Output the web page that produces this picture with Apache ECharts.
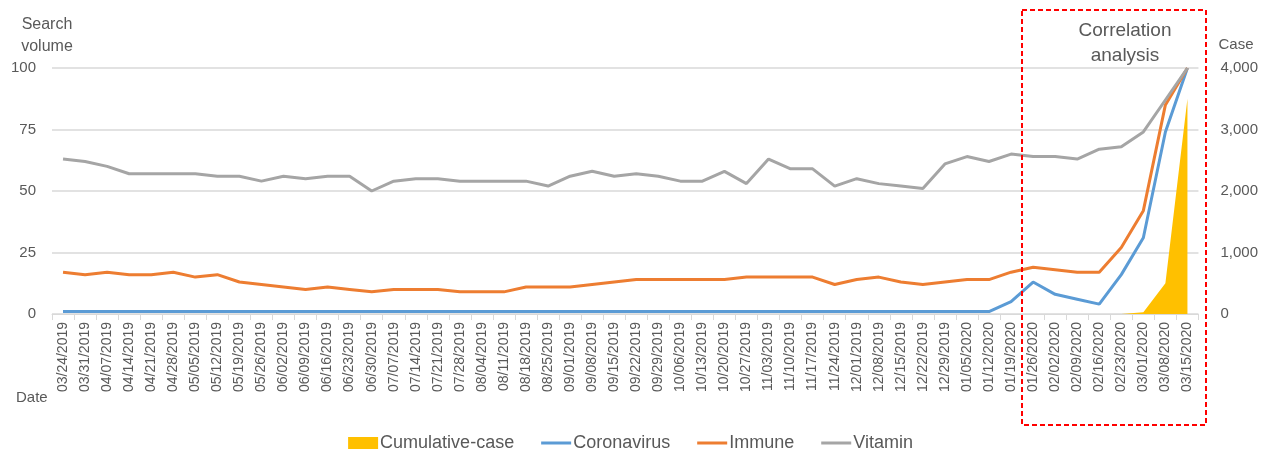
<!DOCTYPE html>
<html>
<head>
<meta charset="utf-8">
<script src="https://cdn.jsdelivr.net/npm/echarts@6/dist/echarts.min.js"></script>
<style>
  html, body { margin: 0; padding: 0; background: #fff; }
  #chart { width: 1261px; height: 450px; }
</style>
</head>
<body>
<div id="chart"></div>
<script>
  // weekly dates
  const dates = [
    '03/24/2019', '03/31/2019', '04/07/2019', '04/14/2019', '04/21/2019', '04/28/2019',
    '05/05/2019', '05/12/2019', '05/19/2019', '05/26/2019', '06/02/2019', '06/09/2019',
    '06/16/2019', '06/23/2019', '06/30/2019', '07/07/2019', '07/14/2019', '07/21/2019',
    '07/28/2019', '08/04/2019', '08/11/2019', '08/18/2019', '08/25/2019', '09/01/2019',
    '09/08/2019', '09/15/2019', '09/22/2019', '09/29/2019', '10/06/2019', '10/13/2019',
    '10/20/2019', '10/27/2019', '11/03/2019', '11/10/2019', '11/17/2019', '11/24/2019',
    '12/01/2019', '12/08/2019', '12/15/2019', '12/22/2019', '12/29/2019', '01/05/2020',
    '01/12/2020', '01/19/2020', '01/26/2020', '02/02/2020', '02/09/2020', '02/16/2020',
    '02/23/2020', '03/01/2020', '03/08/2020', '03/15/2020'
  ];

  // search volume (left axis)
  const coronavirus = [
    1, 1, 1, 1, 1, 1, 1, 1, 1, 1, 1, 1, 1, 1, 1, 1, 1, 1, 1, 1, 1, 1, 1, 1, 1, 1,
    1, 1, 1, 1, 1, 1, 1, 1, 1, 1, 1, 1, 1, 1, 1, 1, 1, 5, 13, 8, 6, 4, 16, 31, 74, 100
  ];
  const immune = [
    17, 16, 17, 16, 16, 17, 15, 16, 13, 12, 11, 10, 11, 10, 9, 10, 10, 10, 9, 9, 9, 11,
    11, 11, 12, 13, 14, 14, 14, 14, 14, 15, 15, 15, 15, 12, 14, 15, 13, 12, 13, 14,
    14, 17, 19, 18, 17, 17, 27, 42, 85, 100
  ];
  const vitamin = [
    63, 62, 60, 57, 57, 57, 57, 56, 56, 54, 56, 55, 56, 56, 50, 54, 55, 55, 54, 54, 54, 54,
    52, 56, 58, 56, 57, 56, 54, 54, 58, 53, 63, 59, 59, 52, 55, 53, 52, 51, 61, 64,
    62, 65, 64, 64, 63, 67, 68, 74, 87, 100
  ];

  // cumulative cases (right axis)
  const cumulativeCase = [
    0, 0, 0, 0, 0, 0, 0, 0, 0, 0, 0, 0, 0, 0, 0, 0, 0, 0, 0, 0, 0, 0, 0, 0, 0, 0,
    0, 0, 0, 0, 0, 0, 0, 0, 0, 0, 0, 0, 0, 0, 0, 0, 0, 0, 0, 0, 0, 0, 0, 30, 500, 3500
  ];

  const volumeTicks = [0, 25, 50, 75, 100];
  const caseTicks = [0, 1000, 2000, 3000, 4000];

  const textColor = '#595959';
  const fontFamily = "'Liberation Sans', Arial, sans-serif";
  // flat line icon for the legend (no dot)
  const lineIcon = 'path://M0,0 L30,0 L30,3 L0,3 Z';

  const chart = echarts.init(document.getElementById('chart'));

  chart.setOption({
    animation: false,
    textStyle: { fontFamily: fontFamily, color: textColor },
    grid: { left: 52, right: 62, top: 68, bottom: 136 },
    legend: {
      top: 429,
      left: 'center',
      itemWidth: 30,
      itemHeight: 12,
      itemGap: 27,
      textStyle: { fontSize: 18, color: textColor, fontFamily: fontFamily, padding: [0, 0, 0, -3] },
      data: [
        { name: 'Cumulative-case', icon: 'rect' },
        { name: 'Coronavirus', icon: lineIcon },
        { name: 'Immune', icon: lineIcon },
        { name: 'Vitamin', icon: lineIcon }
      ]
    },
    xAxis: {
      type: 'category',
      data: dates,
      boundaryGap: true,
      axisLine: { lineStyle: { color: '#d9d9d9' } },
      axisTick: { show: true, length: 6, lineStyle: { color: '#d9d9d9' } },
      axisLabel: { rotate: 90, interval: 0, fontSize: 14, color: textColor, margin: 8 }
    },
    yAxis: [
      {
        type: 'value',
        min: volumeTicks[0],
        max: volumeTicks[volumeTicks.length - 1],
        interval: 25,
        name: 'Search\nvolume',
        nameLocation: 'end',
        nameGap: 10,
        nameTextStyle: { fontSize: 16, color: textColor, align: 'center', lineHeight: 22, padding: [0, 0, 0, -10] },
        axisLine: { show: false },
        axisTick: { show: false },
        axisLabel: { fontSize: 15, color: textColor, margin: 16 },
        splitLine: { lineStyle: { color: '#d9d9d9', width: 1.5 } }
      },
      {
        type: 'value',
        min: caseTicks[0],
        max: caseTicks[caseTicks.length - 1],
        interval: 1000,
        name: 'Case',
        nameLocation: 'end',
        nameGap: 16,
        nameTextStyle: { fontSize: 15, color: textColor, align: 'left', padding: [0, 0, 0, 20] },
        axisLine: { show: false },
        axisTick: { show: false },
        axisLabel: {
          fontSize: 15,
          color: textColor,
          margin: 22,
          formatter: (v) => v.toLocaleString('en-US')
        },
        splitLine: { show: false }
      }
    ],
    series: [
      {
        name: 'Cumulative-case',
        type: 'line',
        yAxisIndex: 1,
        data: cumulativeCase,
        symbol: 'none',
        color: '#FFC000',
        lineStyle: { width: 0 },
        areaStyle: { color: '#FFC000', opacity: 1 },
        z: 1
      },
      {
        name: 'Coronavirus',
        type: 'line',
        data: coronavirus,
        symbol: 'none',
        color: '#5B9BD5',
        lineStyle: { width: 3 },
        z: 3
      },
      {
        name: 'Immune',
        type: 'line',
        data: immune,
        symbol: 'none',
        color: '#ED7D31',
        lineStyle: { width: 3 },
        z: 3
      },
      {
        name: 'Vitamin',
        type: 'line',
        data: vitamin,
        symbol: 'none',
        color: '#A5A5A5',
        lineStyle: { width: 3 },
        z: 3
      }
    ],
    graphic: [
      {
        type: 'text',
        left: 16,
        top: 390,
        style: { text: 'Date', fontSize: 15, fill: textColor, fontFamily: fontFamily }
      },
      {
        type: 'rect',
        shape: { x: 1022, y: 10, width: 184, height: 415 },
        style: { fill: 'none', stroke: '#FF0000', lineWidth: 2, lineDash: [5, 3] },
        z: 10
      },
      {
        type: 'text',
        x: 1125,
        y: 18,
        style: {
          text: 'Correlation\nanalysis',
          fontSize: 19,
          lineHeight: 25,
          align: 'center',
          fill: textColor,
          fontFamily: fontFamily
        },
        z: 10
      }
    ]
  });
</script>
</body>
</html>
